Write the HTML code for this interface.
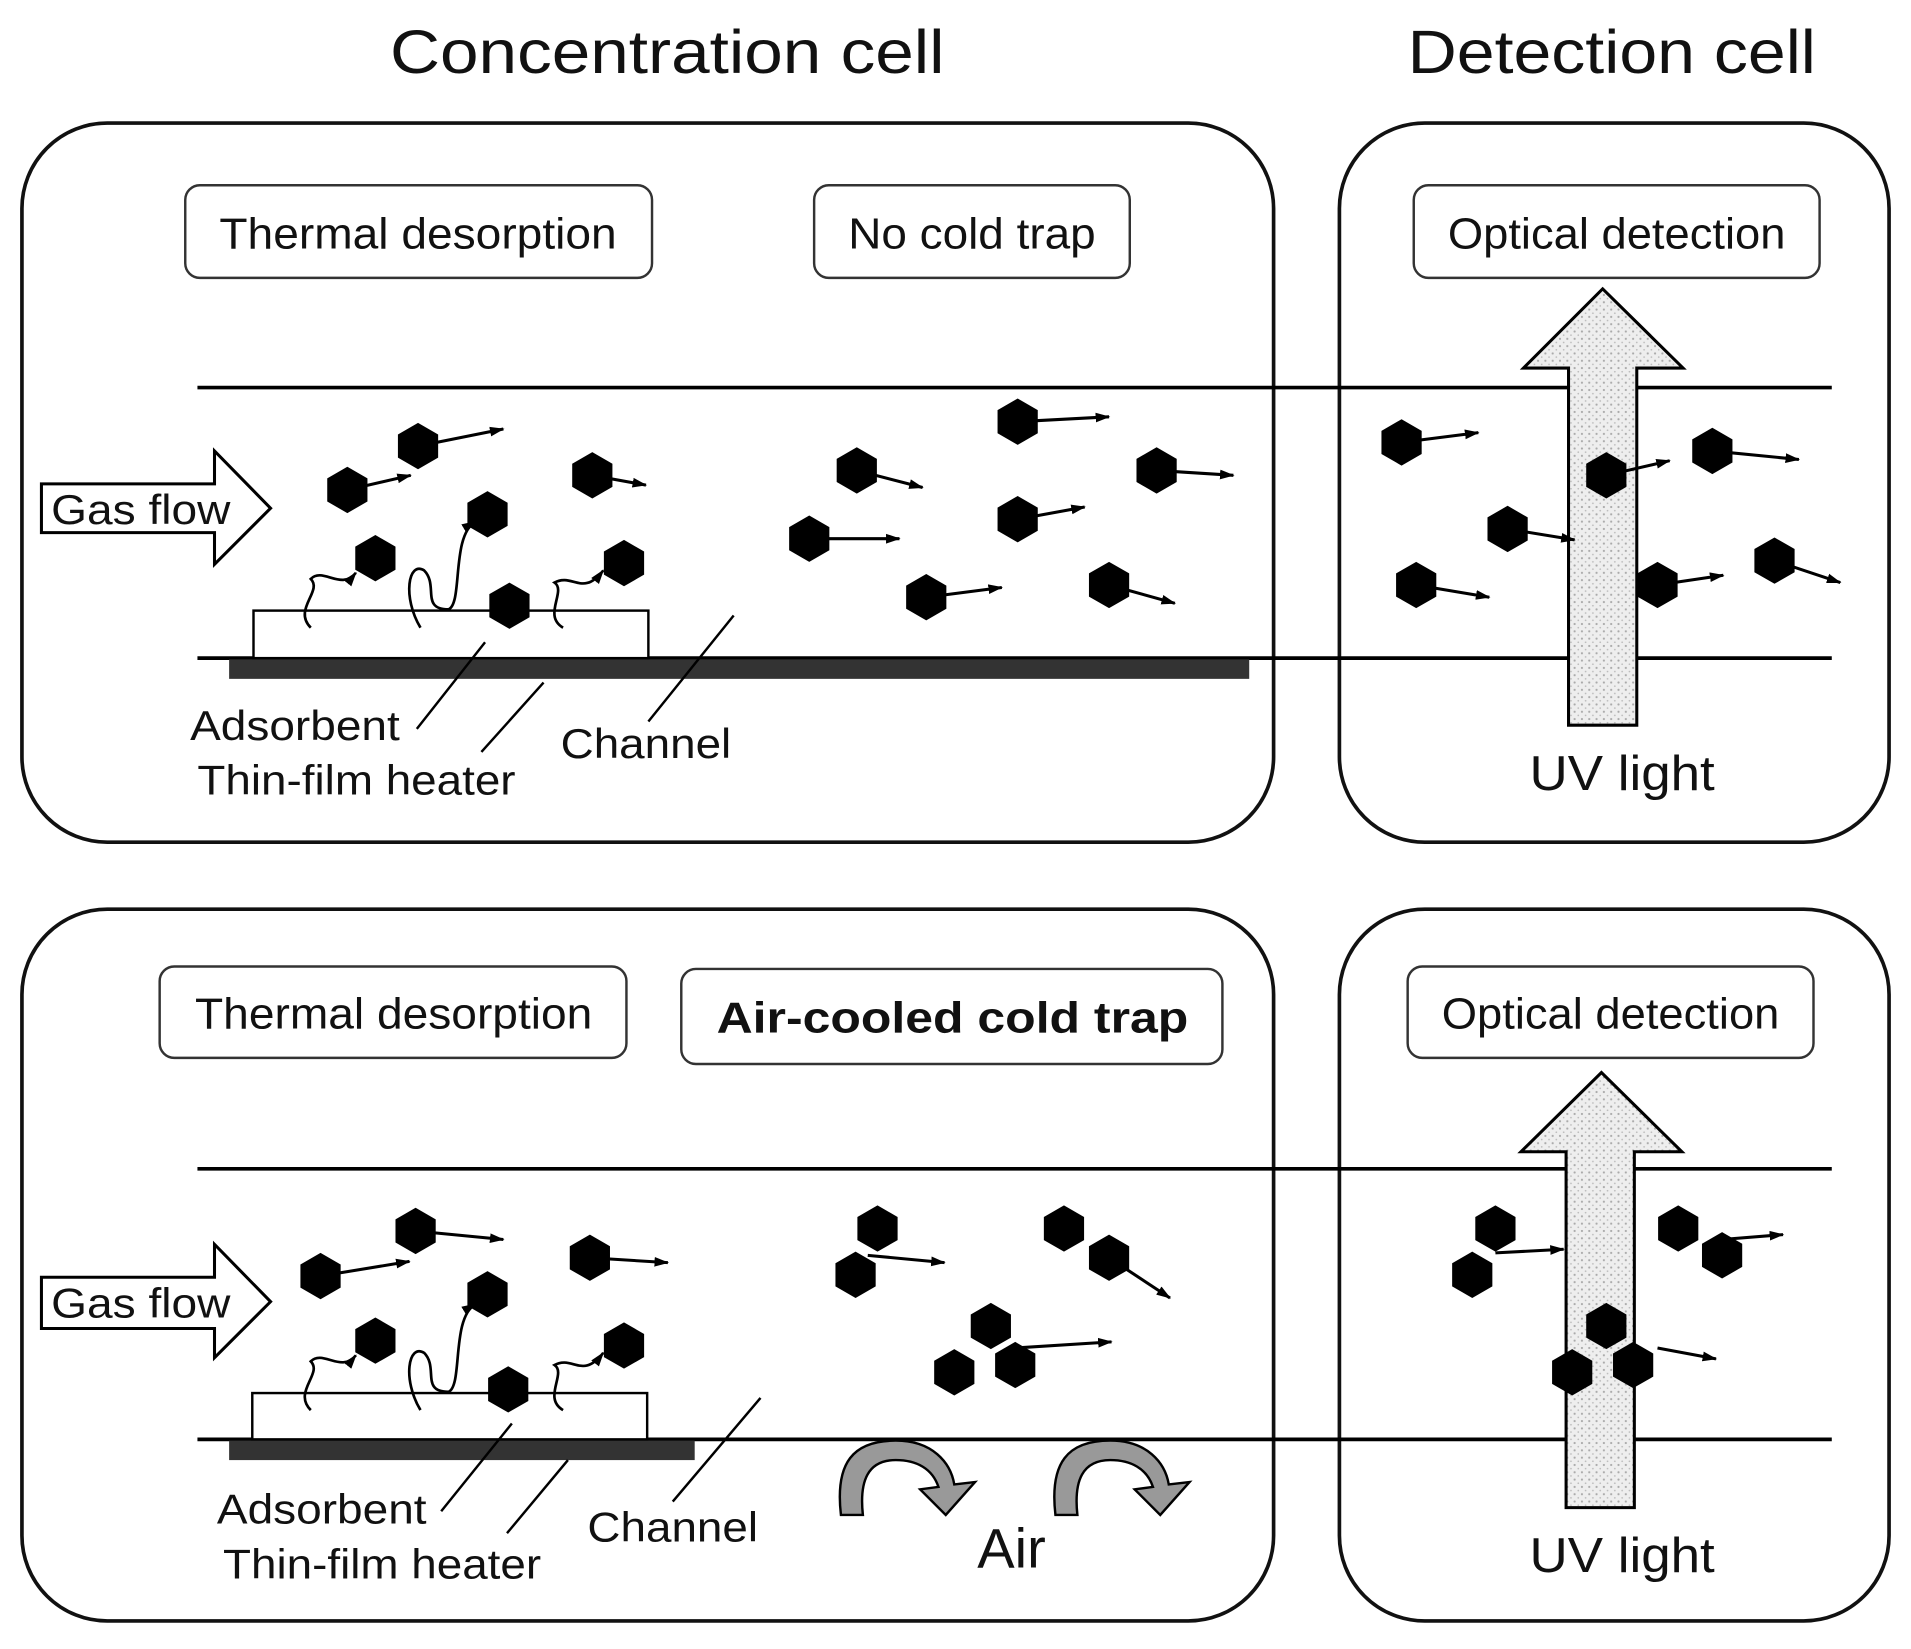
<!DOCTYPE html>
<html><head><meta charset="utf-8"><style>html,body{margin:0;padding:0;background:#fff}svg{display:block}</style></head>
<body>
<svg width="1911" height="1649" viewBox="0 0 1568 1353" preserveAspectRatio="none" xmlns="http://www.w3.org/2000/svg" font-family="Liberation Sans, sans-serif" fill="#111">
<defs>
<pattern id="dots" width="6" height="6" patternUnits="userSpaceOnUse"><rect width="6" height="6" fill="#eee"/><circle cx="2" cy="2" r="0.9" fill="#aaa"/><circle cx="5" cy="5" r="0.7" fill="#bbb"/></pattern>
<polygon id="hx" points="0,-19 16.5,-9.5 16.5,9.5 0,19 -16.5,9.5 -16.5,-9.5" fill="#000"/>
<marker id="ah" markerWidth="12" markerHeight="10" refX="11" refY="5" orient="auto" markerUnits="userSpaceOnUse"><path d="M0,1 L12,5 L0,9 Z" fill="#000"/></marker>
</defs>
<text x="320" y="60" font-size="50" textLength="455" lengthAdjust="spacingAndGlyphs">Concentration cell</text>
<text x="1155" y="60" font-size="50" textLength="335" lengthAdjust="spacingAndGlyphs">Detection cell</text>

<g fill="none" stroke="#111" stroke-width="3">
<rect x="18" y="101" width="1027" height="590" rx="70"/>
<rect x="1099" y="101" width="451" height="590" rx="70"/>
<rect x="18" y="746" width="1027" height="584" rx="70"/>
<rect x="1099" y="746" width="451" height="584" rx="70"/>
</g>
<g fill="#fff" stroke="#333" stroke-width="2">
<rect x="152" y="152" width="383" height="76" rx="12"/>
<rect x="668" y="152" width="259" height="76" rx="12"/>
<rect x="1160" y="152" width="333" height="76" rx="12"/>
<rect x="131" y="793" width="383" height="75" rx="12"/>
<rect x="559" y="795" width="444" height="78" rx="12"/>
<rect x="1155" y="793" width="333" height="75" rx="12"/>
</g>
<g font-size="36" lengthAdjust="spacingAndGlyphs">
<text x="180" y="204" textLength="326" lengthAdjust="spacingAndGlyphs">Thermal desorption</text>
<text x="696" y="204" textLength="203" lengthAdjust="spacingAndGlyphs">No cold trap</text>
<text x="1188" y="204" textLength="277" lengthAdjust="spacingAndGlyphs">Optical detection</text>
<text x="160" y="844" textLength="326" lengthAdjust="spacingAndGlyphs">Thermal desorption</text>
<text x="588" y="847" font-weight="bold" textLength="387" lengthAdjust="spacingAndGlyphs">Air-cooled cold trap</text>
<text x="1183" y="844" textLength="277" lengthAdjust="spacingAndGlyphs">Optical detection</text>
</g>

<g stroke="#000" stroke-width="3">
<line x1="162" y1="318" x2="1503" y2="318"/><line x1="162" y1="540" x2="1503" y2="540"/>
<line x1="162" y1="959" x2="1503" y2="959"/><line x1="162" y1="1181" x2="1503" y2="1181"/>
</g>
<rect x="188" y="541" width="837" height="16" fill="#333"/>
<rect x="188" y="1182" width="382" height="16" fill="#333"/>
<rect x="208" y="501" width="324" height="39" fill="#fff" stroke="#000" stroke-width="2"/>
<rect x="207" y="1143" width="324" height="38" fill="#fff" stroke="#000" stroke-width="2"/>

<path d="M1287,595 L1287,302 L1250,302 L1315,237 L1381,302 L1343,302 L1343,595 Z" fill="url(#dots)" stroke="#000" stroke-width="2.5"/>
<path d="M1285,1237 L1285,945 L1248,945 L1314,880 L1380,945 L1341,945 L1341,1237 Z" fill="url(#dots)" stroke="#000" stroke-width="2.5"/>
<text x="1255" y="648" font-size="40" textLength="152" lengthAdjust="spacingAndGlyphs">UV light</text>
<text x="1255" y="1290" font-size="40" textLength="152" lengthAdjust="spacingAndGlyphs">UV light</text>

<path d="M34,397 L176,397 L176,370 L222,417 L176,463 L176,437 L34,437 Z" fill="#fff" stroke="#000" stroke-width="2.5"/>
<path d="M34,1048 L176,1048 L176,1021 L222,1068 L176,1114 L176,1090 L34,1090 Z" fill="#fff" stroke="#000" stroke-width="2.5"/>
<text x="42" y="430" font-size="34" textLength="147" lengthAdjust="spacingAndGlyphs">Gas flow</text>
<text x="42" y="1081" font-size="34" textLength="147" lengthAdjust="spacingAndGlyphs">Gas flow</text>

<g fill="none" stroke="#000" stroke-width="2.2">
<path d="M255,515 C240,500 265,485 255,475 C265,465 280,485 292,470" marker-end="url(#ah)"/>
<path d="M345,515 C330,490 335,460 348,468 C360,480 345,500 368,500 C380,495 370,440 390,428" marker-end="url(#ah)"/>
<path d="M462,515 C445,505 465,485 455,478 C470,470 478,490 495,468" marker-end="url(#ah)"/>
<path d="M255,1157 C240,1142 265,1127 255,1117 C265,1107 280,1127 292,1112" marker-end="url(#ah)"/>
<path d="M345,1157 C330,1132 335,1102 348,1110 C360,1122 345,1142 368,1142 C380,1137 370,1082 390,1070" marker-end="url(#ah)"/>
<path d="M462,1157 C445,1147 465,1127 455,1120 C470,1112 478,1132 495,1110" marker-end="url(#ah)"/>
</g>

<g stroke="#000" stroke-width="2.5" marker-end="url(#ah)">
<line x1="285" y1="402" x2="337" y2="390"/><line x1="343" y1="366" x2="413" y2="352"/>
<line x1="486" y1="390" x2="530" y2="398"/><line x1="703" y1="386" x2="757" y2="400"/>
<line x1="835" y1="346" x2="910" y2="342"/><line x1="949" y1="386" x2="1012" y2="390"/>
<line x1="664" y1="442" x2="738" y2="442"/><line x1="835" y1="426" x2="890" y2="416"/>
<line x1="760" y1="490" x2="822" y2="482"/><line x1="910" y1="480" x2="964" y2="495"/>
<line x1="1150" y1="363" x2="1213" y2="355"/><line x1="1318" y1="390" x2="1370" y2="378"/>
<line x1="1405" y1="370" x2="1476" y2="377"/><line x1="1237" y1="434" x2="1292" y2="443"/>
<line x1="1162" y1="480" x2="1222" y2="490"/><line x1="1360" y1="480" x2="1414" y2="472"/>
<line x1="1456" y1="460" x2="1510" y2="478"/>
<line x1="263" y1="1047" x2="336" y2="1035"/><line x1="341" y1="1010" x2="413" y2="1017"/>
<line x1="484" y1="1032" x2="548" y2="1036"/><line x1="712" y1="1030" x2="775" y2="1036"/>
<line x1="910" y1="1032" x2="960" y2="1065"/><line x1="833" y1="1106" x2="912" y2="1101"/>
<line x1="1227" y1="1028" x2="1283" y2="1025"/><line x1="1413" y1="1017" x2="1463" y2="1013"/>
<line x1="1360" y1="1106" x2="1408" y2="1115"/>
</g>
<g>
<use href="#hx" x="285" y="402"/><use href="#hx" x="343" y="366"/><use href="#hx" x="486" y="390"/>
<use href="#hx" x="400" y="422"/><use href="#hx" x="308" y="458"/><use href="#hx" x="512" y="462"/>
<use href="#hx" x="418" y="497"/><use href="#hx" x="703" y="386"/><use href="#hx" x="835" y="346"/>
<use href="#hx" x="949" y="386"/><use href="#hx" x="664" y="442"/><use href="#hx" x="835" y="426"/>
<use href="#hx" x="760" y="490"/><use href="#hx" x="910" y="480"/>
<use href="#hx" x="1150" y="363"/><use href="#hx" x="1318" y="390"/><use href="#hx" x="1405" y="370"/>
<use href="#hx" x="1237" y="434"/><use href="#hx" x="1162" y="480"/><use href="#hx" x="1360" y="480"/>
<use href="#hx" x="1456" y="460"/>
<use href="#hx" x="263" y="1047"/><use href="#hx" x="341" y="1010"/><use href="#hx" x="484" y="1032"/>
<use href="#hx" x="400" y="1062"/><use href="#hx" x="308" y="1100"/><use href="#hx" x="512" y="1104"/>
<use href="#hx" x="417" y="1140"/>
<use href="#hx" x="720" y="1008"/><use href="#hx" x="702" y="1046"/>
<use href="#hx" x="873" y="1008"/><use href="#hx" x="910" y="1032"/>
<use href="#hx" x="813" y="1088"/><use href="#hx" x="783" y="1126"/><use href="#hx" x="833" y="1120"/>
<use href="#hx" x="1227" y="1008"/><use href="#hx" x="1208" y="1046"/>
<use href="#hx" x="1377" y="1008"/><use href="#hx" x="1413" y="1030"/>
<use href="#hx" x="1318" y="1088"/><use href="#hx" x="1290" y="1126"/><use href="#hx" x="1340" y="1120"/>
</g>

<g stroke="#000" stroke-width="2">
<line x1="342" y1="598" x2="398" y2="527"/><line x1="395" y1="617" x2="446" y2="560"/><line x1="532" y1="592" x2="602" y2="505"/>
<line x1="362" y1="1240" x2="420" y2="1168"/><line x1="416" y1="1258" x2="466" y2="1198"/><line x1="552" y1="1232" x2="624" y2="1147"/>
</g>
<g font-size="34">
<text x="156" y="607" textLength="172" lengthAdjust="spacingAndGlyphs">Adsorbent</text>
<text x="162" y="652" textLength="261" lengthAdjust="spacingAndGlyphs">Thin-film heater</text>
<text x="460" y="622" textLength="140" lengthAdjust="spacingAndGlyphs">Channel</text>
<text x="178" y="1250" textLength="172" lengthAdjust="spacingAndGlyphs">Adsorbent</text>
<text x="183" y="1295" textLength="261" lengthAdjust="spacingAndGlyphs">Thin-film heater</text>
<text x="482" y="1265" textLength="140" lengthAdjust="spacingAndGlyphs">Channel</text>
</g>
<text x="830" y="1286" font-size="46" text-anchor="middle">Air</text>

<g fill="#999" stroke="#000" stroke-width="2">
<path d="M690,1243 C685,1200 700,1182 735,1182 C765,1182 780,1200 783,1218 L800,1216 L776,1243 L755,1222 L770,1220 C765,1205 752,1198 735,1198 C712,1198 705,1215 708,1243 Z"/>
<path d="M866,1243 C861,1200 876,1182 911,1182 C941,1182 956,1200 959,1218 L976,1216 L952,1243 L931,1222 L946,1220 C941,1205 928,1198 911,1198 C888,1198 881,1215 884,1243 Z"/>
</g>
</svg>
</body></html>
